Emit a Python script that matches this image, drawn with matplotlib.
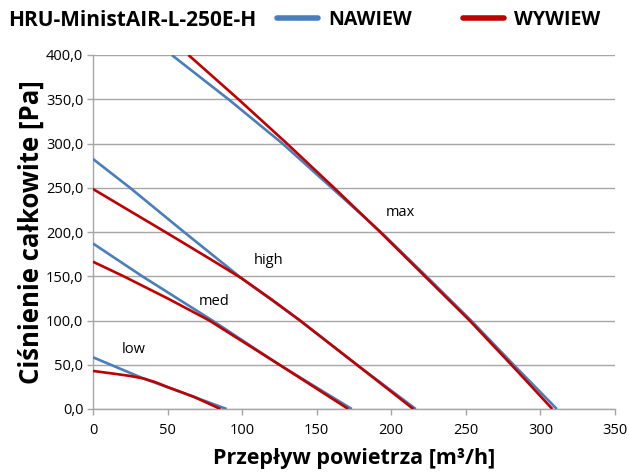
import matplotlib
matplotlib.use("Agg")
import matplotlib.pyplot as plt
from matplotlib.lines import Line2D

# ---- data ----
max_naw_flow = [52.8, 90.8, 127, 160, 193, 223.5, 253.5, 282, 311]
max_naw_pa = [400, 350, 300, 250, 200, 150, 100, 50, 0]
max_wyw_flow = [64, 97.5, 130, 161.6, 192.5, 222.5, 252.5, 280.5, 308]
max_wyw_pa = [400, 350, 300, 250, 200, 150, 100, 50, 0]

high_naw_flow = [0, 24.8, 61, 99.7, 138.8, 176.9, 216.4]
high_naw_pa = [282.5, 250, 200, 147.6, 100, 50, 0]
high_wyw_flow = [0, 25, 48.5, 80, 99.7, 120, 138.8, 176.9, 214.8]
high_wyw_pa = [248.6, 223.5, 200, 168, 147.6, 123.5, 100, 50, 0]

med_naw_flow = [0, 33, 80, 125, 173.5]
med_naw_pa = [187, 150, 100, 50, 0]
med_wyw_flow = [0, 20.5, 50, 78, 125, 171.2]
med_wyw_pa = [166.4, 150, 125, 100, 50, 0]

low_naw_flow = [0, 33.8, 60, 89.6]
low_naw_pa = [58.4, 34.5, 18.5, 0]
low_wyw_flow = [0, 15.8, 25, 33.8, 42, 50.5, 67.3, 85.5]
low_wyw_pa = [43, 39.5, 37.3, 34.5, 30.2, 24.5, 14, 0]

labels = ["low", "med", "high", "max"]
label_pos_flow = [27.5, 81, 117.5, 206]
label_pos_pa = [66.7, 121, 168, 222]

x_ticks = [0, 50, 100, 150, 200, 250, 300, 350]
y_ticks = [0, 50, 100, 150, 200, 250, 300, 350, 400]

title = "HRU-MinistAIR-L-250E-H"
series_names = ["NAWIEW", "WYWIEW"]

# ---- style ----
BLUE = "#4A7EBB"
RED = "#C00000"
GRID = "#A6A6A6"
plt.rcParams["font.family"] = ["Open Sans", "DejaVu Sans"]

fig = plt.figure(figsize=(6.29, 4.74), dpi=100)
ax = fig.add_axes([93 / 629, 1 - 409 / 474, (615 - 93) / 629, (409 - 55) / 474])

blue_sets = [(max_naw_flow, max_naw_pa), (high_naw_flow, high_naw_pa),
             (med_naw_flow, med_naw_pa), (low_naw_flow, low_naw_pa)]
red_sets = [(max_wyw_flow, max_wyw_pa), (high_wyw_flow, high_wyw_pa),
            (med_wyw_flow, med_wyw_pa), (low_wyw_flow, low_wyw_pa)]
for fx, py in blue_sets:
    ax.plot(fx, py, color=BLUE, lw=1.9, solid_capstyle="butt",
            solid_joinstyle="round", zorder=3)
for fx, py in red_sets:
    ax.plot(fx, py, color=RED, lw=1.9, solid_capstyle="butt",
            solid_joinstyle="round", zorder=4)

for t, fx, py in zip(labels, label_pos_flow, label_pos_pa):
    ax.text(fx, py, t, fontsize=10.5, ha="center", va="center", color="#000000")

ax.set_xlim(0, 350)
ax.set_ylim(0, 400)
ax.set_xticks(x_ticks)
ax.set_yticks(y_ticks)
ax.set_xticklabels([str(v) for v in x_ticks], fontsize=10.5)
ax.set_yticklabels([f"{v:.1f}".replace(".", ",") for v in y_ticks], fontsize=10.5)
ax.yaxis.grid(True, color=GRID, lw=1.0)
ax.set_axisbelow(True)
for s in ["top", "right"]:
    ax.spines[s].set_visible(False)
for s in ["left", "bottom"]:
    ax.spines[s].set_color(GRID)
    ax.spines[s].set_linewidth(1.0)
ax.tick_params(axis="both", direction="out", length=4, color=GRID, width=1.0,
               labelcolor="#000000")
ax.tick_params(axis="x", pad=6)
ax.tick_params(axis="y", pad=3)

ax.set_xlabel("Przepływ powietrza [m³/h]", fontsize=15.5, fontweight="bold", labelpad=7)
ax.set_ylabel("Ciśnienie całkowite [Pa]", fontsize=18.5, fontweight="bold", labelpad=1)

fig.text(8 / 629, 1 - 20 / 474, title, fontsize=15, fontweight="bold",
         ha="left", va="center")
handles = [Line2D([], [], color=BLUE, lw=4, solid_capstyle="round"),
           Line2D([], [], color=RED, lw=4, solid_capstyle="round")]
fig.legend(handles, series_names, loc="center left",
           bbox_to_anchor=(277 / 629, 1 - 20 / 474), ncol=2, frameon=False,
           prop={"size": 14, "weight": "bold"}, handlelength=2.1,
           handletextpad=0.55, columnspacing=2.6, borderaxespad=0, borderpad=0)

fig.savefig("out.png", dpi=100)
